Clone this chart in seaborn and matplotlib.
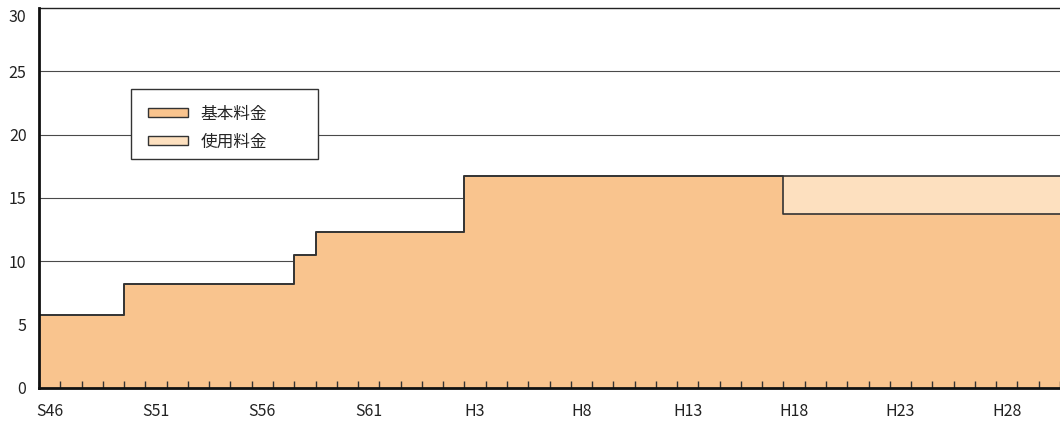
import numpy as np
import pandas as pd
import matplotlib
matplotlib.use("Agg")
import matplotlib.pyplot as plt
import matplotlib.transforms as mtransforms
import seaborn as sns
from matplotlib.patches import Patch, Rectangle

# Fiscal years S46 (1971) .. H30 (2018)
years = list(range(1971, 2019))

# 基本料金 per year
basic_fee = [
    5.76, 5.76, 5.76, 5.76,                                    # S46-S49
    8.18, 8.18, 8.18, 8.18, 8.18, 8.18, 8.18, 8.18,            # S50-S57
    10.52,                                                     # S58
    12.34, 12.34, 12.34, 12.34, 12.34, 12.34, 12.34,           # S59-H2
    16.70, 16.70, 16.70, 16.70, 16.70, 16.70, 16.70, 16.70,    # H3-H10
    16.70, 16.70, 16.70, 16.70, 16.70, 16.70, 16.70,           # H11-H17
    13.73, 13.73, 13.73, 13.73, 13.73, 13.73, 13.73,           # H18-H24
    13.73, 13.73, 13.73, 13.73, 13.73, 13.73,                  # H25-H30
]

# 使用料金 per year
usage_fee = [
    0, 0, 0, 0,
    0, 0, 0, 0, 0, 0, 0, 0,
    0,
    0, 0, 0, 0, 0, 0, 0,
    0, 0, 0, 0, 0, 0, 0, 0,
    0, 0, 0, 0, 0, 0, 0,
    2.97, 2.97, 2.97, 2.97, 2.97, 2.97, 2.97,
    2.97, 2.97, 2.97, 2.97, 2.97, 2.97,
]

tick_labels = ["S46", "S51", "S56", "S61", "H3", "H8", "H13", "H18", "H23", "H28"]
series_names = ["基本料金", "使用料金"]


def era_label(y):
    return f"S{y - 1925}" if y <= 1988 else f"H{y - 1988}"


c_basic = "#F9C48E"
c_usage = "#FDE0BF"
c_line = "#333333"

sns.set_theme(style="white")
plt.rcParams["font.family"] = ["Noto Sans CJK JP", "DejaVu Sans"]

fig = plt.figure(figsize=(10.6, 4.21), dpi=100)
ax = fig.add_axes([39 / 1060, 1 - 388 / 421, 1021 / 1060, 380 / 421])
ax.set_axisbelow(False)

df = pd.DataFrame({"year": years, "basic": basic_fee, "usage": usage_fee})
df["pos"] = np.arange(len(df))
df["total"] = df["basic"] + df["usage"]
# closing edge so the last year gets its full width in a post-step
edges = pd.concat([df, df.iloc[[-1]].assign(pos=len(df))], ignore_index=True)

# horizontal guides behind the filled areas
yticks = list(range(0, 31, 5))
for y in yticks[1:-1]:
    ax.axhline(y, color="#4a4a4a", lw=0.8, zorder=0.8)

ax.fill_between(edges["pos"], 0, edges["basic"], step="post",
                color=c_basic, lw=0, zorder=1)
ax.fill_between(edges["pos"], edges["basic"], edges["total"], step="post",
                color=c_usage, lw=0, zorder=1)
sns.lineplot(data=edges, x="pos", y="total", drawstyle="steps-post",
             color=c_line, lw=1.2, ax=ax, zorder=2)
sns.lineplot(data=edges, x="pos", y="basic", drawstyle="steps-post",
             color=c_line, lw=1.2, ax=ax, zorder=2)

ax.set_xlim(0, len(df))
ax.set_ylim(0, 30)

# year boundaries as minor ticks; labels centred in each labelled year
ax.set_xticks(np.arange(0, len(df) + 1), minor=True)
lab_pos = [i + 0.5 for i, y in enumerate(years) if era_label(y) in tick_labels]
ax.set_xticks(lab_pos, [era_label(years[int(p)]) for p in lab_pos])
ax.tick_params(axis="x", which="minor", bottom=True, direction="in",
               length=5, width=1, color=c_line)
ax.tick_params(axis="x", which="major", bottom=True, length=0, pad=11,
               labelsize=11.5, labelcolor="#222222")
ax.set_yticks(yticks)
ax.tick_params(axis="y", left=False, length=0, pad=9,
               labelsize=11.5, labelcolor="#222222")
ax.set_xlabel("")
ax.set_ylabel("")

# keep the top label inside the figure
top_label = ax.get_yticklabels()[-1]
top_label.set_transform(top_label.get_transform() +
                        mtransforms.ScaledTranslation(0, -0.08, fig.dpi_scale_trans))

for side in ("left", "bottom"):
    ax.spines[side].set_color("#111111")
    ax.spines[side].set_linewidth(2)
    ax.spines[side].set_zorder(3)
ax.spines["top"].set_color("#222222")
ax.spines["top"].set_linewidth(1)
ax.spines["right"].set_visible(False)

# legend box
x0 = (131 - 39) / 1021
y1 = (388 - 89) / 380
w = (318 - 131) / 1021
h = (159 - 89) / 380
ax.add_patch(Rectangle((x0, y1 - h), w, h, transform=ax.transAxes,
                       facecolor="white", edgecolor="#333333", lw=1, zorder=4))

handles = [Patch(facecolor=c_basic, edgecolor=c_line, lw=1),
           Patch(facecolor=c_usage, edgecolor=c_line, lw=1)]
leg = ax.legend(handles, series_names, loc="upper left",
                bbox_to_anchor=(x0, y1 - h, w, h), mode="expand",
                fontsize=12, frameon=False,
                handlelength=2.4, handleheight=0.5, handletextpad=0.75,
                labelspacing=0.66, borderpad=1.0, borderaxespad=0)
leg.set_zorder(5)

fig.savefig("out.png", dpi=100)
